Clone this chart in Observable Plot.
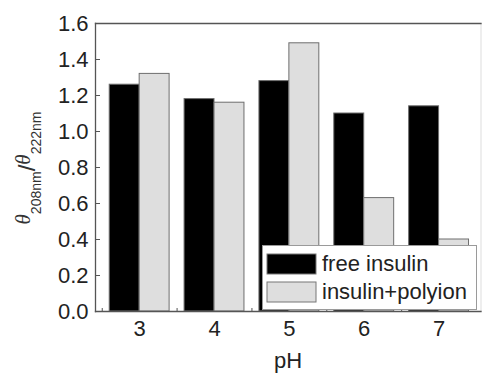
<!DOCTYPE html>
<html>
<head>
<meta charset="utf-8">
<script src="https://cdn.jsdelivr.net/npm/d3@7"></script>
<script src="https://cdn.jsdelivr.net/npm/@observablehq/plot@0.6"></script>
<style>
  body { margin: 0; background: #fff; }
  #chart { position: relative; width: 482px; height: 374px; font-family: 'Liberation Sans', Arial, sans-serif; }
  #chart svg.main { display: block; font-family: 'Liberation Sans', Arial, sans-serif !important; }
  #chart svg.main text { font-family: 'Liberation Sans', Arial, sans-serif; }
  #legend { position: absolute; left: 262px; top: 245px; width: 215px; box-sizing: border-box;
            border: 1px solid #9a9a9a; background: #fff; padding: 4px 0 3px 4px;
            font-family: 'Liberation Sans', Arial, sans-serif !important; }
  #legend * { max-width: none !important; overflow: visible !important; }
  #legend .lg-swatch { display: flex; align-items: center; font-size: 22px; color: #222; line-height: 27px; height: 27px; }
  #legend .lg-swatch svg { margin-right: 6px; flex: none; }
  #legend .lg-swatch svg rect { stroke: #777; stroke-width: 1px; }
</style>
</head>
<body>
<div id="chart"></div>
<script>
// CD ellipticity ratio θ208/θ222 of insulin at different pH
const pHValues = [3, 4, 5, 6, 7];
const freeInsulin = [1.26, 1.18, 1.28, 1.10, 1.14];
const insulinPolyion = [1.32, 1.16, 1.49, 0.63, 0.40];
const seriesNames = ["free insulin", "insulin+polyion"];
const seriesColors = ["#000000", "#dedede"];
const yTicks = [0, 0.2, 0.4, 0.6, 0.8, 1.0, 1.2, 1.4, 1.6];
const xTicks = [3, 4, 5, 6, 7];
const xMinorTicks = [2.5, 3.5, 4.5, 5.5, 6.5];

const barWidth = 0.4; // in pH units, each series beside the tick
const rows = [];
pHValues.forEach((p, i) => {
  rows.push({pH: p, series: seriesNames[0], value: freeInsulin[i], x1: p - barWidth, x2: p});
  rows.push({pH: p, series: seriesNames[1], value: insulinPolyion[i], x1: p, x2: p + barWidth});
});

const textColor = "#222";
const axisColor = "#555";
const fontStack = "'Liberation Sans', Arial, sans-serif";
const plot = Plot.plot({
  width: 482,
  height: 374,
  marginLeft: 95,
  marginRight: 1.5,
  marginTop: 23,
  marginBottom: 63,
  style: {fontFamily: fontStack, fontSize: "22px", color: textColor, background: "#fff", overflow: "visible"},
  x: {type: "linear", domain: [2.41, 7.56]},
  y: {domain: [0, 1.6]},
  color: {domain: seriesNames, range: seriesColors},
  marks: [
    Plot.axisY(yTicks, {tickSize: -5, tickPadding: 12, tickFormat: d3.format(".1f"), label: null, stroke: axisColor, fill: textColor}),
    Plot.axisX(xTicks, {tickSize: -5, tickPadding: 14, tickFormat: d3.format("d"), label: null, stroke: axisColor, fill: textColor}),
    Plot.axisX(xMinorTicks, {tickSize: -3, tickFormat: () => "", label: null, stroke: axisColor}),
    Plot.rectY(rows, {x1: "x1", x2: "x2", y1: 0, y2: "value", fill: "series", stroke: "#6e6e6e", strokeWidth: 1}),
    Plot.frame({anchor: "right", stroke: "#ddd", strokeWidth: 1}),
    Plot.frame({anchor: "top", stroke: axisColor, strokeWidth: 1.3}),
    Plot.frame({anchor: "left", stroke: axisColor, strokeWidth: 1.3}),
    Plot.frame({anchor: "bottom", stroke: axisColor, strokeWidth: 1.3})
  ]
});
plot.classList.add("main");

// Axis titles
const svg = d3.select(plot);
svg.append("text")
  .attr("x", 288).attr("y", 368)
  .attr("text-anchor", "middle")
  .attr("font-size", 22).attr("fill", textColor)
  .text("pH");

// θ208nm / θ222nm, rotated, with low-hanging narrow subscripts
const serif = "'Liberation Serif', 'Times New Roman', serif";
const narrow = "'Liberation Sans Narrow', 'Arial Narrow', 'Liberation Sans', Arial, sans-serif";
const yl = svg.append("text")
  .attr("transform", "translate(30,168) rotate(-90)")
  .attr("text-anchor", "middle")
  .attr("font-size", 22)
  .attr("fill", "#333");
yl.append("tspan").attr("font-family", serif).attr("font-style", "italic").attr("font-size", 21).text("θ");
yl.append("tspan").attr("font-family", narrow).attr("font-size", 14).attr("dy", 11).text("208nm");
yl.append("tspan").attr("font-size", 24).attr("dy", -6).text("/");
yl.append("tspan").attr("font-family", serif).attr("font-style", "italic").attr("font-size", 21).attr("dy", -5).text("θ");
yl.append("tspan").attr("font-family", narrow).attr("font-size", 14).attr("dy", 11).text("222nm");

const chart = document.getElementById("chart");
chart.appendChild(plot);

const legend = Plot.legend({
  color: {domain: seriesNames, range: seriesColors},
  legend: "swatches",
  columns: 1,
  swatchWidth: 49,
  swatchHeight: 20,
  className: "lg",
  style: {fontFamily: fontStack}
});
legend.id = "legend";
chart.appendChild(legend);
</script>
</body>
</html>
